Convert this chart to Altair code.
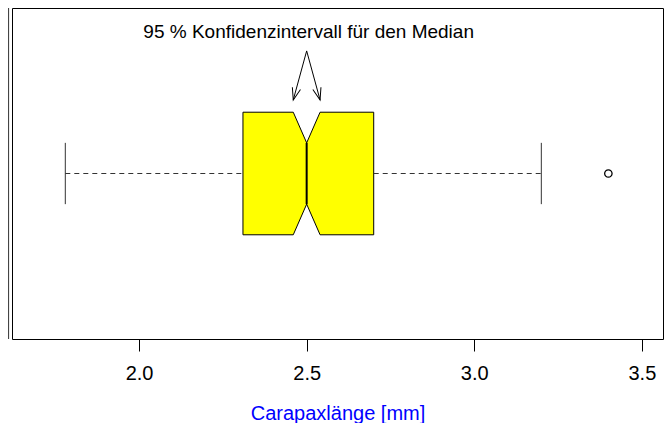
import math
import altair as alt
import pandas as pd

# ---- statistics (mm) ----
whisker_low = [1.78]
q1 = [2.31]
median = [2.50]
q3 = [2.70]
whisker_high = [3.20]
notch_low = [2.46]
notch_high = [2.54]
outliers = [3.40]

tick_values = [2.0, 2.5, 3.0, 3.5]
x_domain = [1.621, 3.563]
y_domain = [0.46, 1.54]

annotation_text = ["95 % Konfidenzintervall für den Median"]
annotation_y = [1.462]
arrow_start_y = [1.40]
arrow_end_y = [1.24]

# ---- layout constants ----
W, H = 651, 331
pos = 1.0          # box position
half_box = 0.2     # half box width
half_notch = 0.1   # half width at notch / staple
FONT = "Liberation Sans"

xs = alt.Scale(domain=x_domain, nice=False, zero=False)
ys = alt.Scale(domain=y_domain, nice=False, zero=False)

x_axis = alt.Axis(
    values=tick_values, format=".1f", domain=False, grid=False,
    tickSize=12, tickColor="black", tickWidth=1,
    labelFont=FONT, labelFontSize=20, labelColor="black", labelPadding=12,
    labelFlush=False,
    title="Carapaxlänge [mm]", titleFont=FONT, titleFontSize=20,
    titleFontWeight="normal", titleColor="#0000FF",
    titleY=80, titleBaseline="alphabetic",
)


def X(field):
    return alt.X(field, scale=xs, axis=x_axis)


def Y(field):
    return alt.Y(field, scale=ys, axis=None)


# notched box as an area
box_df = pd.DataFrame({
    "x": [q1[0], notch_low[0], median[0], notch_high[0], q3[0]],
    "lo": [pos - half_box, pos - half_box, pos - half_notch, pos - half_box, pos - half_box],
    "hi": [pos + half_box, pos + half_box, pos + half_notch, pos + half_box, pos + half_box],
})

whisk_df = pd.DataFrame({
    "x": [whisker_low[0], q3[0]],
    "x2": [q1[0], whisker_high[0]],
    "y": [pos, pos],
})
staple_df = pd.DataFrame({
    "x": [whisker_low[0], whisker_high[0]],
    "lo": [pos - half_notch] * 2,
    "hi": [pos + half_notch] * 2,
})
med_df = pd.DataFrame({"x": median, "lo": [pos - half_notch], "hi": [pos + half_notch]})
out_df = pd.DataFrame({"x": outliers, "y": [pos] * len(outliers)})

px_x = W / (x_domain[1] - x_domain[0])
px_y = H / (y_domain[1] - y_domain[0])
arrow_ends = [notch_low[0], notch_high[0]]
angles = []
for xe in arrow_ends:
    dx = (xe - median[0]) * px_x
    dy = (arrow_start_y[0] - arrow_end_y[0]) * px_y
    a = math.degrees(math.atan2(-dx, dy))
    angles.append(a % 360)
arrow_df = pd.DataFrame({
    "x": [median[0]] * 2,
    "y": arrow_start_y * 2,
    "x2": arrow_ends,
    "y2": arrow_end_y * 2,
    "angle": angles,
})
text_df = pd.DataFrame({"x": median, "y": annotation_y, "t": annotation_text})

box = alt.Chart(box_df).mark_area(
    color="#FFFF00", stroke="black", strokeWidth=1, orient="vertical",
    interpolate="linear", opacity=1
).encode(x=X("x:Q"), y=Y("lo:Q"), y2="hi:Q")

whiskers = alt.Chart(whisk_df).mark_rule(
    color="#333333", strokeDash=[5, 4], strokeWidth=1
).encode(x=X("x:Q"), x2="x2:Q", y=Y("y:Q"))

staples = alt.Chart(staple_df).mark_rule(color="#333333", strokeWidth=1).encode(
    x=X("x:Q"), y=Y("lo:Q"), y2="hi:Q"
)

med_line = alt.Chart(med_df).mark_rule(color="black", strokeWidth=2).encode(
    x=X("x:Q"), y=Y("lo:Q"), y2="hi:Q"
)

out_pts = alt.Chart(out_df).mark_point(
    shape="circle", size=55, filled=False, color="black", strokeWidth=1.3, opacity=1
).encode(x=X("x:Q"), y=Y("y:Q"))

arrow_lines = alt.Chart(arrow_df).mark_rule(color="black", strokeWidth=1).encode(
    x=X("x:Q"), x2="x2:Q", y=Y("y:Q"), y2="y2:Q"
)
arrow_heads = alt.Chart(arrow_df).mark_point(
    shape="M -0.35 -1 L 0 0 L 0.35 -1", size=576, filled=False,
    color="black", strokeWidth=1, opacity=1
).encode(
    x=X("x2:Q"), y=Y("y2:Q"),
    angle=alt.Angle("angle:Q", scale=None),
)

label = alt.Chart(text_df).mark_text(
    font=FONT, fontSize=19, color="black", align="center", baseline="middle", dx=2
).encode(x=X("x:Q"), y=Y("y:Q"), text="t:N")

# right border of the neighbouring panel visible at the left edge
neighbour = alt.Chart(pd.DataFrame({"a": [0]})).mark_rule(
    color="#444444", strokeWidth=1.2
).encode(x=alt.value(-3.5), y=alt.value(0), y2=alt.value(H))

chart = alt.layer(
    box, whiskers, staples, med_line, out_pts, arrow_lines, arrow_heads, label, neighbour
).properties(
    width=W, height=H,
    autosize=alt.AutoSizeParams(type="none"),
    padding={"left": 4, "top": 0, "right": 1, "bottom": 84},
    background="white",
).configure_view(stroke="black", strokeWidth=1)

chart.save("out.html", embed_options={"renderer": "svg", "actions": False})
